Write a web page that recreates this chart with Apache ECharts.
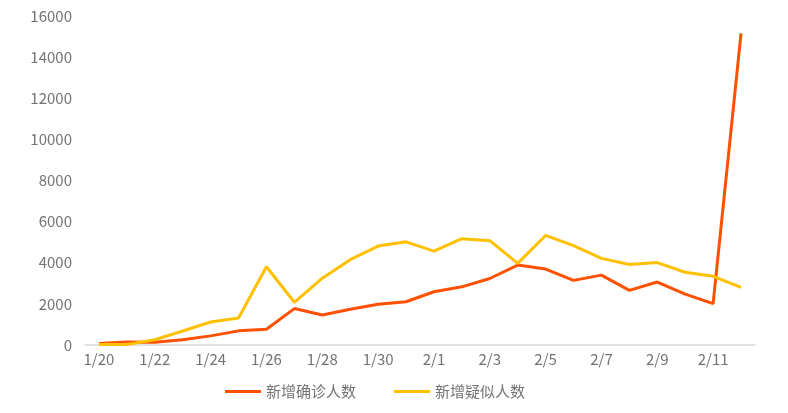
<!DOCTYPE html>
<html>
<head>
<meta charset="utf-8">
<script src="https://cdn.jsdelivr.net/npm/echarts@6/dist/echarts.min.js"></script>
<style>
  html, body { margin: 0; padding: 0; background: #fff; }
  #main { width: 788px; height: 413px; }
</style>
</head>
<body>
<div id="main"></div>
<script>
// 日期
var days = ['1/20', '1/21', '1/22', '1/23', '1/24', '1/25', '1/26', '1/27', '1/28', '1/29', '1/30', '1/31',
  '2/1', '2/2', '2/3', '2/4', '2/5', '2/6', '2/7', '2/8', '2/9', '2/10', '2/11', '2/12'];
// 新增确诊
var confirmed = [77, 149, 131, 259, 444, 688, 769, 1771, 1459, 1737, 1981, 2102,
  2590, 2829, 3235, 3887, 3694, 3143, 3399, 2656, 3062, 2478, 2015, 15152];
// 新增疑似
var suspected = [27, 26, 257, 680, 1118, 1309, 3806, 2077, 3248, 4148, 4812, 5019,
  4562, 5173, 5072, 3971, 5328, 4833, 4214, 3916, 4008, 3536, 3342, 2807];

var chart = echarts.init(document.getElementById('main'));
var font = '"Noto Sans CJK SC", "Noto Sans", sans-serif';

var option = {
  animation: false,
  textStyle: { fontFamily: font },
  color: ['#FF5000', '#FFC000'],
  grid: {
    left: 85,
    right: 33,
    top: 16,
    bottom: 68
  },
  legend: {
    bottom: 9,
    left: 220,
    itemWidth: 36,
    itemHeight: 3,
    itemGap: 38,
    icon: 'rect',
    textStyle: { fontSize: 15, color: '#737373', fontFamily: font },
    data: ['新增确诊人数', '新增疑似人数']
  },
  xAxis: {
    type: 'category',
    data: days,
    boundaryGap: true,
    axisLine: { lineStyle: { color: '#d9d9d9', width: 1.5 } },
    axisTick: { interval: 1, length: 6, lineStyle: { color: '#d9d9d9' } },
    axisLabel: { interval: 1, fontSize: 15, color: '#737373', margin: 7 }
  },
  yAxis: {
    type: 'value',
    min: 0,
    max: 16000,
    interval: 2000,
    axisLine: { show: false },
    axisTick: { show: false },
    splitLine: { show: false },
    axisLabel: {
      fontSize: 15,
      color: '#737373',
      margin: 13,
      formatter: function(v) { return String(v); }
    }
  },
  series: [{
      name: '新增确诊人数',
      type: 'line',
      data: confirmed,
      symbol: 'none',
      lineStyle: { width: 3 }
    },
    {
      name: '新增疑似人数',
      type: 'line',
      data: suspected,
      symbol: 'none',
      lineStyle: { width: 3 }
    }
  ]
};
chart.setOption(option);
</script>
</body>
</html>
